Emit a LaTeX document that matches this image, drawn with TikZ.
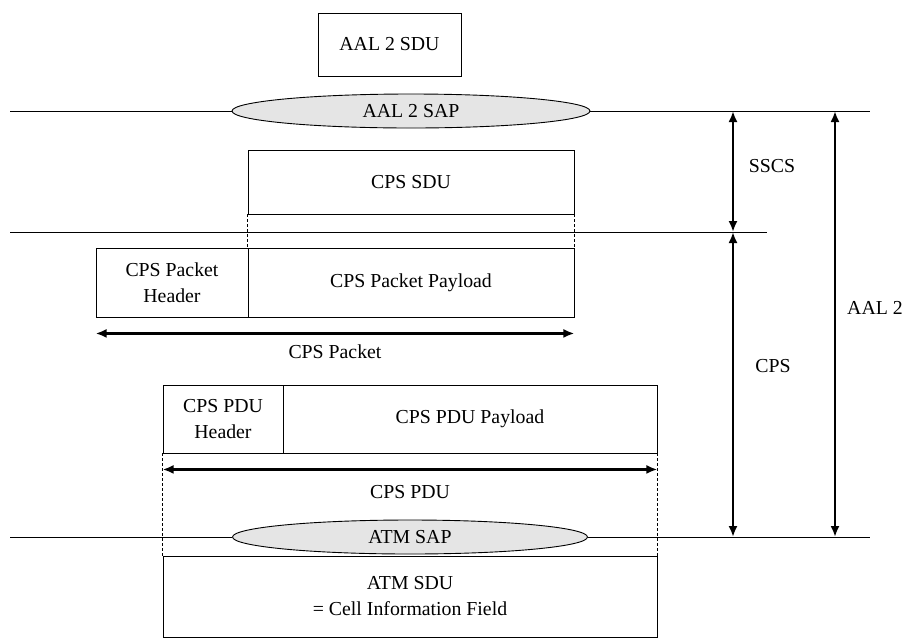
\documentclass[tikz,border=0pt]{standalone}
\usepackage{fontspec}
\setmainfont{Liberation Serif}
\usetikzlibrary{shapes.geometric,arrows.meta}
\begin{document}
\begin{tikzpicture}[x=1pt,y=-1pt,
  font=\fontsize{19.8}{26}\selectfont,
  box/.style={draw,line width=0.9pt,rectangle,inner sep=0pt,align=center},
  sap/.style={draw,line width=0.9pt,ellipse,fill=black!10,inner sep=0pt},
  layerline/.style={line width=0.9pt},
  dimarrow/.style={line width=2.4pt,{Latex[length=11pt,width=9pt]}-{Latex[length=11pt,width=9pt]}},
  guide/.style={line width=0.9pt,dash pattern=on 3pt off 2pt},
  lbl/.style={inner sep=0pt}]
\useasboundingbox (0,0) rectangle (913,641);
% coordinates for layer line ends
\coordinate (L1a) at (10,111);
\coordinate (L1b) at (870,111);
\coordinate (L2a) at (10,232);
\coordinate (L2b) at (767,232);
\coordinate (L3a) at (10,537);
\coordinate (L3b) at (870,537);
% boxes
\node[box,minimum width=143,minimum height=63] (sdu) at (389.5,44.5) {AAL 2 SDU};
\node[sap,minimum width=358,minimum height=34] (aalsap) at (411,111) {AAL 2 SAP};
\node[box,minimum width=326,minimum height=64] (cpssdu) at (411,182) {CPS SDU};
\node[box,minimum width=152,minimum height=69] (pkthdr) at (172,282.5) {CPS Packet\\Header};
\node[box,minimum width=326,minimum height=69] (pktpay) at (411,282.5) {CPS Packet Payload};
\node[box,minimum width=120,minimum height=68] (pduhdr) at (223,419) {CPS PDU\\Header};
\node[box,minimum width=374,minimum height=68] (pdupay) at (470,419) {CPS PDU Payload};
\node[sap,minimum width=355,minimum height=34] (atmsap) at (410,537) {ATM SAP};
\node[box,minimum width=494,minimum height=81] (atmsdu) at (410,596.5) {ATM SDU\\= Cell Information Field};
% layer lines
\draw[layerline] (L1a) -- (aalsap.west);
\draw[layerline] (aalsap.east) -- (L1b);
\draw[layerline] (L2a) -- (L2b);
\draw[layerline] (L3a) -- (atmsap.west);
\draw[layerline] (atmsap.east) -- (L3b);
% guides
\draw[guide] (cpssdu.south west) -- (pktpay.north west);
\draw[guide] (cpssdu.south east) -- (pktpay.north east);
\draw[guide] (pduhdr.south west) -- (atmsdu.north west);
\draw[guide] (pdupay.south east) -- (atmsdu.north east);
% length arrows
\coordinate (pa) at ([yshift=-16pt]pkthdr.south west);
\coordinate (pb) at ([yshift=-16pt]pktpay.south east);
\draw[dimarrow] (pa) -- (pb);
\node[lbl] (pktlbl) at (335,352) {CPS Packet};
\coordinate (da) at ([yshift=-16pt]pduhdr.south west);
\coordinate (db) at ([yshift=-16pt]pdupay.south east);
\draw[dimarrow] (da) -- (db);
\node[lbl] (pdulbl) at (410,492) {CPS PDU};
% layer extent arrows
\coordinate (s1) at (733,111);
\coordinate (s2) at (733,232);
\coordinate (s3) at (733,537);
\coordinate (a1) at (835,111);
\coordinate (a2) at (835,537);
\draw[dimarrow] (s1) -- (s2);
\draw[dimarrow] (s2) -- (s3);
\draw[dimarrow] (a1) -- (a2);
\node[lbl] (sscs) at (772,166) {SSCS};
\node[lbl] (cps) at (773,366) {CPS};
\node[lbl] (aal) at (875,308) {AAL 2};
\end{tikzpicture}
\end{document}
